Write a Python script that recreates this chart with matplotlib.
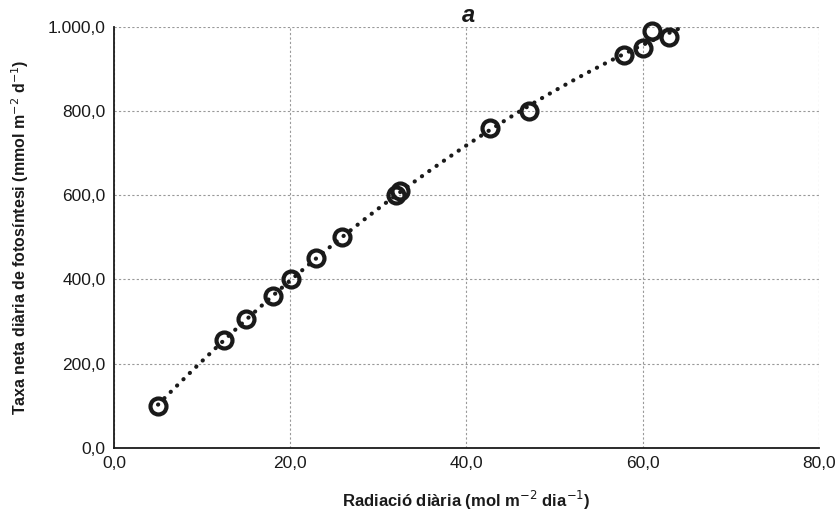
import numpy as np
import matplotlib.pyplot as plt
from matplotlib.ticker import FuncFormatter

plt.rcParams['font.family'] = ['Liberation Sans', 'DejaVu Sans']

# dades llegides del gràfic
radiacio = [5.0, 12.5, 15.0, 18.0, 20.1, 22.9, 25.9, 32.0, 32.5, 42.7, 47.1, 57.9, 60.0, 61.1, 63.0]
fotosintesi = [100, 257, 306, 361, 401, 450, 500, 600, 610, 760, 800, 933, 950, 990, 976]

x_ticks = [0, 20, 40, 60, 80]
y_ticks = [0, 200, 400, 600, 800, 1000]


def fmt(v, pos=None):
    s = f"{v:,.1f}"
    return s.replace(",", "X").replace(".", ",").replace("X", ".")


# línia de tendència (ajust quadràtic)
coef = np.polyfit(radiacio, fotosintesi, 2)
xt = np.linspace(5, 64.0, 100)
yt = np.polyval(coef, xt)

fig = plt.figure(figsize=(8.4, 5.16), dpi=100)
ax = fig.add_axes([0.1357, 0.1318, 0.8393, 0.8165])

ax.plot(xt, yt, color='#1a1a1a', linestyle=(0, (0.05, 2.1)), linewidth=3.0,
        dash_capstyle='round', zorder=2, clip_on=False)
ax.plot(radiacio, fotosintesi, 'o', markersize=11.5, markerfacecolor='none',
        markeredgecolor='#1a1a1a', markeredgewidth=3.0, zorder=3, clip_on=False)

ax.set_xlim(0, 80)
ax.set_ylim(0, 1000)
ax.set_xticks(x_ticks)
ax.set_yticks(y_ticks)
ax.xaxis.set_major_formatter(FuncFormatter(fmt))
ax.yaxis.set_major_formatter(FuncFormatter(fmt))
ax.tick_params(length=0, labelsize=12.5, pad=6, colors='#1a1a1a')

ax.grid(True, color='#999999', linestyle=(0, (2, 2)), linewidth=0.8)
for s in ['top', 'right']:
    ax.spines[s].set_visible(False)
for s in ['left', 'bottom']:
    ax.spines[s].set_linewidth(1.3)
    ax.spines[s].set_color('#1a1a1a')

ax.set_xlabel('Radiació diària (mol m$^{-2}$ dia$^{-1}$)', fontsize=12,
              fontweight='bold', labelpad=13, color='#1a1a1a')
ax.set_ylabel('Taxa neta diària de fotosíntesi (mmol m$^{-2}$ d$^{-1}$)',
              fontsize=11.5, fontweight='bold', labelpad=12, color='#1a1a1a')
ax.set_title('a', fontsize=17, fontweight='bold', style='italic',
             x=0.503, pad=1, color='#1a1a1a')

fig.savefig('out.png', dpi=100)
